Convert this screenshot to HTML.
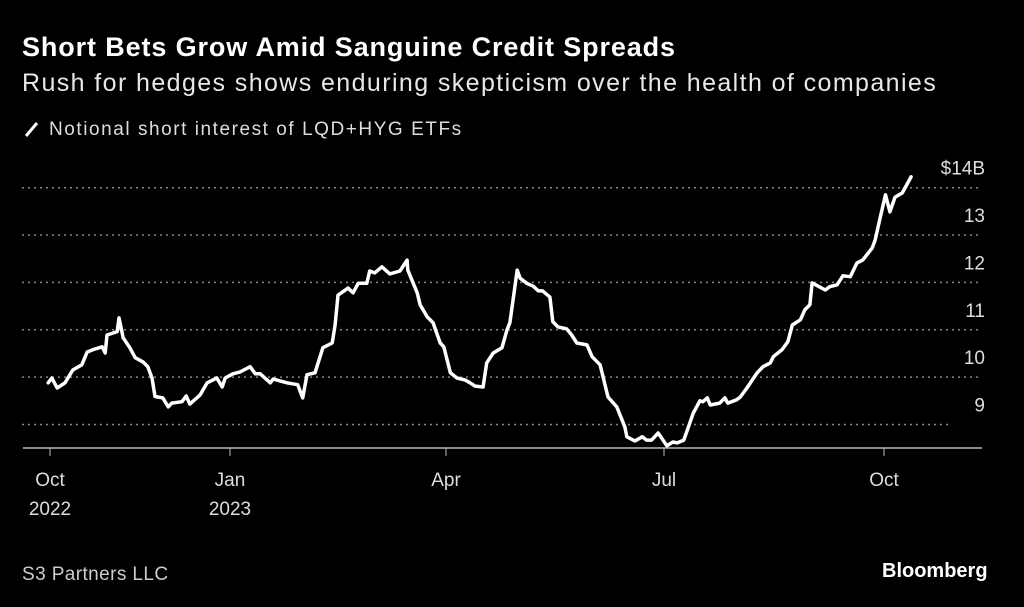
<!DOCTYPE html>
<html><head><meta charset="utf-8"><style>
body{margin:0;background:#000;width:1024px;height:607px;overflow:hidden;font-family:"Liberation Sans",sans-serif;color:#fff}
.t{position:absolute;white-space:nowrap}
</style></head><body>
<div class="t" style="left:22px;top:32px;font-size:27px;font-weight:bold;letter-spacing:0.87px">Short Bets Grow Amid Sanguine Credit Spreads</div>
<div class="t" style="left:22px;top:69px;font-size:25px;letter-spacing:1.4px;color:#e8e8e8">Rush for hedges shows enduring skepticism over the health of companies</div>
<div class="t" style="left:22px;top:119px;font-size:19px;letter-spacing:1.55px;color:#ddd"><span style="display:inline-block;width:3px;height:17px;background:#fff;transform:rotate(40deg);margin:0 16px -3px 8px"></span>Notional short interest of LQD+HYG ETFs</div>
<div class="t" style="left:22px;top:564px;font-size:19px;letter-spacing:0.4px;color:#ccc">S3 Partners LLC</div>
<div class="t" style="left:882px;top:560px;font-size:20px;font-weight:bold">Bloomberg</div>
<svg id="chart" width="1024" height="607" style="position:absolute;left:0;top:0"></svg>
<script>
const tickMonths=[0,3,6,9,12];
const tickLabels=[["Oct","2022"],["Jan","2023"],["Apr",""],["Jul",""],["Oct",""]];
const yTicks=[9,10,11,12,13,14];
const yLabels=["9","10","11","12","13","$14B"];
const months=[-0.03,0.03,0.12,0.25,0.38,0.53,0.62,0.72,0.87,0.92,0.95,1.12,1.15,1.22,1.33,1.42,1.55,1.63,1.70,1.75,1.88,1.97,2.03,2.20,2.27,2.33,2.50,2.62,2.78,2.87,2.92,3.04,3.14,3.28,3.35,3.42,3.56,3.60,3.74,3.79,3.94,4.01,4.07,4.18,4.29,4.42,4.46,4.50,4.64,4.71,4.78,4.90,4.94,5.01,5.11,5.22,5.36,5.46,5.47,5.60,5.64,5.74,5.82,5.92,5.97,6.06,6.15,6.26,6.33,6.40,6.51,6.56,6.65,6.77,6.84,6.88,6.98,7.02,7.11,7.20,7.27,7.33,7.43,7.47,7.54,7.66,7.73,7.80,7.94,8.01,8.12,8.23,8.35,8.46,8.49,8.60,8.70,8.76,8.83,8.92,9.04,9.12,9.18,9.27,9.40,9.49,9.53,9.59,9.63,9.76,9.83,9.87,9.99,10.04,10.13,10.27,10.35,10.45,10.49,10.61,10.69,10.75,10.86,10.92,10.99,11.02,11.20,11.26,11.36,11.44,11.54,11.63,11.71,11.84,11.88,11.95,12.02,12.08,12.15,12.25,12.31,12.37];
const values=[9.88,9.98,9.77,9.88,10.15,10.26,10.53,10.58,10.64,10.51,10.89,10.96,11.25,10.83,10.62,10.41,10.32,10.22,9.98,9.59,9.56,9.37,9.45,9.48,9.60,9.43,9.62,9.88,9.98,9.79,9.98,10.07,10.11,10.22,10.07,10.07,9.88,9.96,9.90,9.88,9.84,9.56,10.05,10.09,10.62,10.72,11.10,11.73,11.88,11.78,11.98,11.98,12.24,12.20,12.33,12.18,12.24,12.47,12.26,11.78,11.53,11.27,11.15,10.72,10.64,10.09,9.98,9.94,9.88,9.81,9.79,10.30,10.51,10.62,11.0,11.15,12.26,12.09,11.98,11.92,11.82,11.82,11.69,11.17,11.06,11.02,10.89,10.72,10.68,10.43,10.26,9.58,9.37,8.95,8.74,8.65,8.74,8.67,8.67,8.82,8.55,8.63,8.61,8.67,9.24,9.50,9.48,9.56,9.41,9.45,9.56,9.45,9.52,9.58,9.77,10.09,10.22,10.30,10.43,10.58,10.75,11.10,11.21,11.42,11.53,11.99,11.84,11.91,11.95,12.14,12.12,12.41,12.47,12.73,12.90,13.38,13.85,13.49,13.80,13.89,14.06,14.23];
const tickPx=[50,230,446,664,884];
function x(m){for(let i=0;i<tickMonths.length-1;i++){if(m<=tickMonths[i+1]||i==tickMonths.length-2){const a=tickMonths[i],b=tickMonths[i+1];return tickPx[i]+(m-a)/(b-a)*(tickPx[i+1]-tickPx[i]);}}}
function y(v){return 187.7+(14-v)*47.35;}
const svg=document.getElementById('chart');const NS='http://www.w3.org/2000/svg';
function mk(t,a){const e=document.createElementNS(NS,t);for(const k in a)e.setAttribute(k,a[k]);svg.appendChild(e);return e;}
yTicks.forEach((v,i)=>{
 const g=mk('line',{x1:22,x2:v===9?948:980,y1:y(v),y2:y(v),stroke:'#888','stroke-width':1.5,'stroke-dasharray':'2 4'});
 
 
 const t=mk('text',{x:985,y:y(v)-13,'text-anchor':'end','font-size':19,fill:'#ddd','font-family':'Liberation Sans, sans-serif'});
 t.textContent=yLabels[i];
 
 
});
const ax=mk('line',{x1:23,x2:982,y1:448,y2:448,stroke:'#bbb','stroke-width':1.5});


tickMonths.forEach((m,i)=>{
 const tk=mk('line',{x1:x(m),x2:x(m),y1:448,y2:456,stroke:'#bbb','stroke-width':1});
 
 
 tickLabels[i].forEach((s,j)=>{if(!s)return;
  const t=mk('text',{x:x(m),y:486+j*29,'text-anchor':'middle','font-size':19,fill:'#ddd','font-family':'Liberation Sans, sans-serif'});
  t.textContent=s;
  
  
 });
});
const d=months.map((m,i)=>(i?'L':'M')+x(m).toFixed(1)+' '+y(values[i]).toFixed(1)).join(' ');
const p=mk('path',{d:d,fill:'none',stroke:'#fff','stroke-width':3.5,'stroke-linejoin':'round','stroke-linecap':'round'});


</script>
</body></html>
